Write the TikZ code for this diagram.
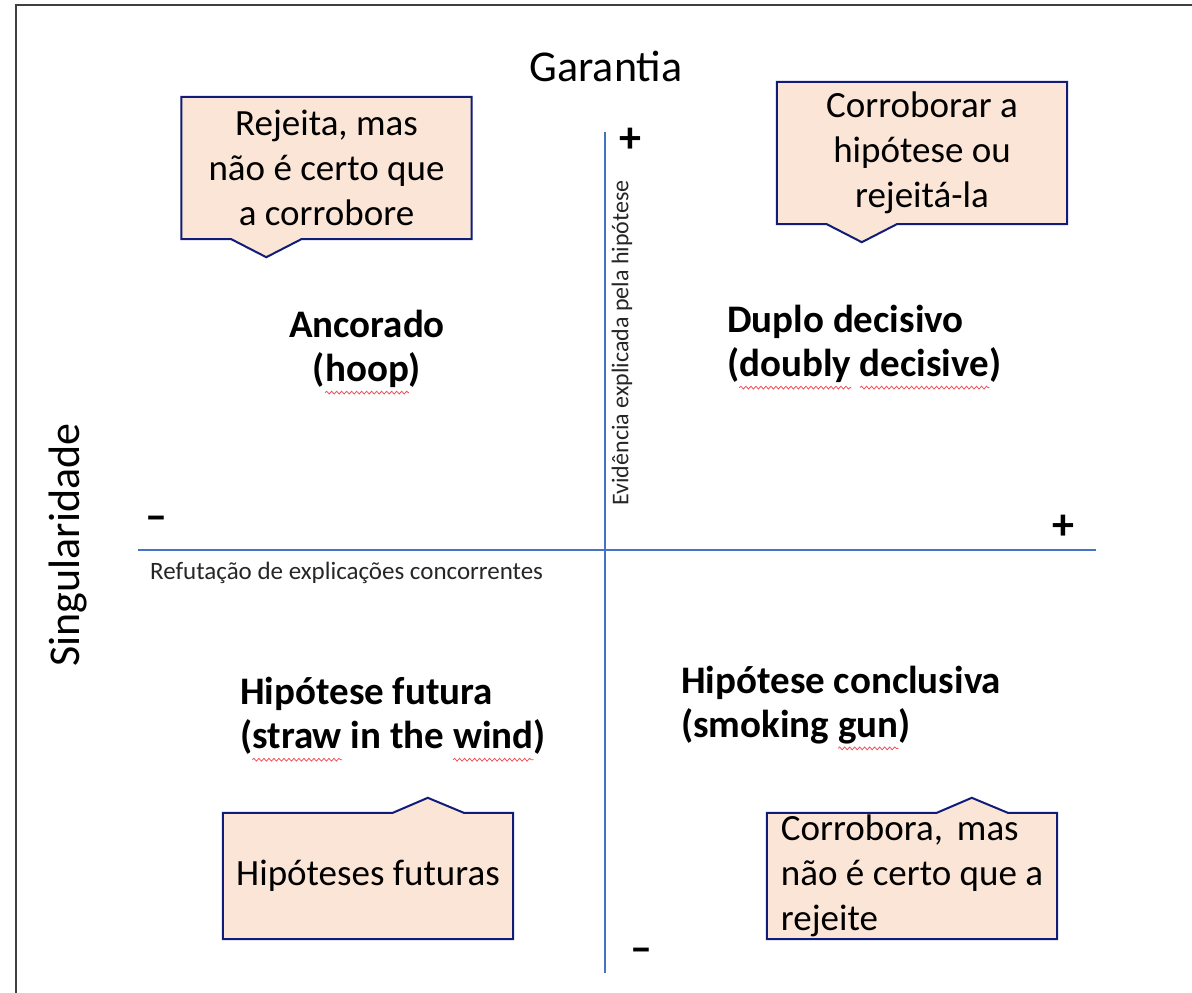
\documentclass[tikz,border=0pt]{standalone}
\usepackage{fontspec}
\setmainfont{Carlito}
\usepackage{tikz}
\usetikzlibrary{positioning}
\usetikzlibrary{calc}
\usetikzlibrary{backgrounds}
\usetikzlibrary{decorations.pathmorphing}
\definecolor{axisblue}{RGB}{68,114,196}
\definecolor{peach}{RGB}{251,229,214}
\definecolor{navy}{RGB}{16,28,120}
\definecolor{spellred}{RGB}{240,80,90}
\tikzset{
  axisline/.style={draw=axisblue,line width=1.2pt},
  heading/.style={font=\fontsize{44}{52}\selectfont,inner sep=0pt},
  axislabel/.style={font=\fontsize{24}{29}\selectfont,text=black!85,inner sep=0pt},
  sign/.style={font=\bfseries\fontsize{44}{50}\selectfont,inner sep=0pt},
  quad/.style={font=\bfseries\fontsize{39}{44}\selectfont,align=left,inner sep=0pt},
  callbox/.style={font=\fontsize{37}{45}\selectfont,align=center,inner sep=0pt,minimum width=290pt},
  calloutline/.style={draw=navy,fill=peach,line width=2pt,line join=miter},
  spellwave/.style={draw=spellred,line width=0.8pt,decorate,decoration={snake,amplitude=1.4pt,segment length=5pt}},
}
% red wavy underline of the spell checker
\newcommand{\spellerr}[1]{\tikz[baseline=(sw.base)]{\node[inner sep=0pt,outer sep=0pt] (sw) {#1};
  \draw[spellwave,overlay] ([yshift=-11pt]sw.base west) -- ([yshift=-11pt]sw.base east);}}
\begin{document}
\begin{tikzpicture}[x=1pt,y=-1pt]
\useasboundingbox (0,0) rectangle (1192,993);
%frame
\coordinate (fbot) at (16,993);
\coordinate (fcorner) at (16,5);
\coordinate (fright) at (1192,5);
\draw[line width=2pt,black!75] (fbot) -- (fcorner) -- (fright);

%axes
\coordinate (ytop) at (605,132);
\coordinate (ybot) at (605,973);
\coordinate (xleft) at (138,550);
\coordinate (xright) at (1096,550);
\draw[axisline] (ytop) -- (ybot);
\draw[axisline] (xleft) -- (xright);

%axis titles and labels
\node (garantia) at (606,66) [heading] {Garantia};
\node (singular) at (68,545) [heading,rotate=90] {Singularidade};
\node (evid) at (622,343) [axislabel,rotate=90] {Evidência explicada pela hipótese};
\node (refut) at (150,573) [axislabel,anchor=west,font=\fontsize{25}{30}\selectfont] {Refutação de explicações concorrentes};

%signs
\node (ptop) at (630,140) [sign] {+};
\node (pright) at (1063,527) [sign] {+};
\node (mleft) at (156,523) [sign] {--};
\node (mbot) at (641,955) [sign] {--};

%quadrants
\node (hoop) at (367,349) [quad,align=center] {Ancorado\\(\spellerr{hoop})};
\node (dd) at (727,344) [quad,anchor=west] {Duplo decisivo\\(\spellerr{doubly} \spellerr{decisive})};
\node (straw) at (240,716) [quad,anchor=west] {Hipótese futura\\(\spellerr{straw} in the \spellerr{wind})};
\node (gun) at (681,705) [quad,anchor=west] {Hipótese conclusiva\\(smoking \spellerr{gun})};

%callout boxes
\node (b1) at (326.5,168) [callbox,minimum height=142pt] {Rejeita, mas\\não é certo que\\a corrobore};
\node (b2) at (922,153) [callbox,minimum height=142pt] {Corroborar a\\hipótese ou\\rejeitá-la};
\node (b3) at (368,876) [callbox,minimum height=126pt] {Hipóteses futuras};
\node (b4) at (912,876) [callbox,minimum height=126pt,align=left] {Corrobora,\hspace{14pt}mas\\não é certo que a\\rejeite};

%callout outlines with tails
\begin{scope}[on background layer]
\foreach \b in {b1,b2}{
  \filldraw[calloutline] (\b.north west) -- (\b.north east) -- (\b.south east)
    -- ($(\b.south west)+(120,0)$) -- ($(\b.south west)+(85,18)$) -- ($(\b.south west)+(50,0)$)
    -- (\b.south west) -- cycle;
}
\foreach \b in {b3,b4}{
  \filldraw[calloutline] (\b.south west) -- (\b.north west) -- ($(\b.north west)+(170,0)$)
    -- ($(\b.north west)+(205,-15)$) -- ($(\b.north west)+(241,0)$) -- (\b.north east)
    -- (\b.south east) -- cycle;
}
\end{scope}
\end{tikzpicture}
\end{document}
